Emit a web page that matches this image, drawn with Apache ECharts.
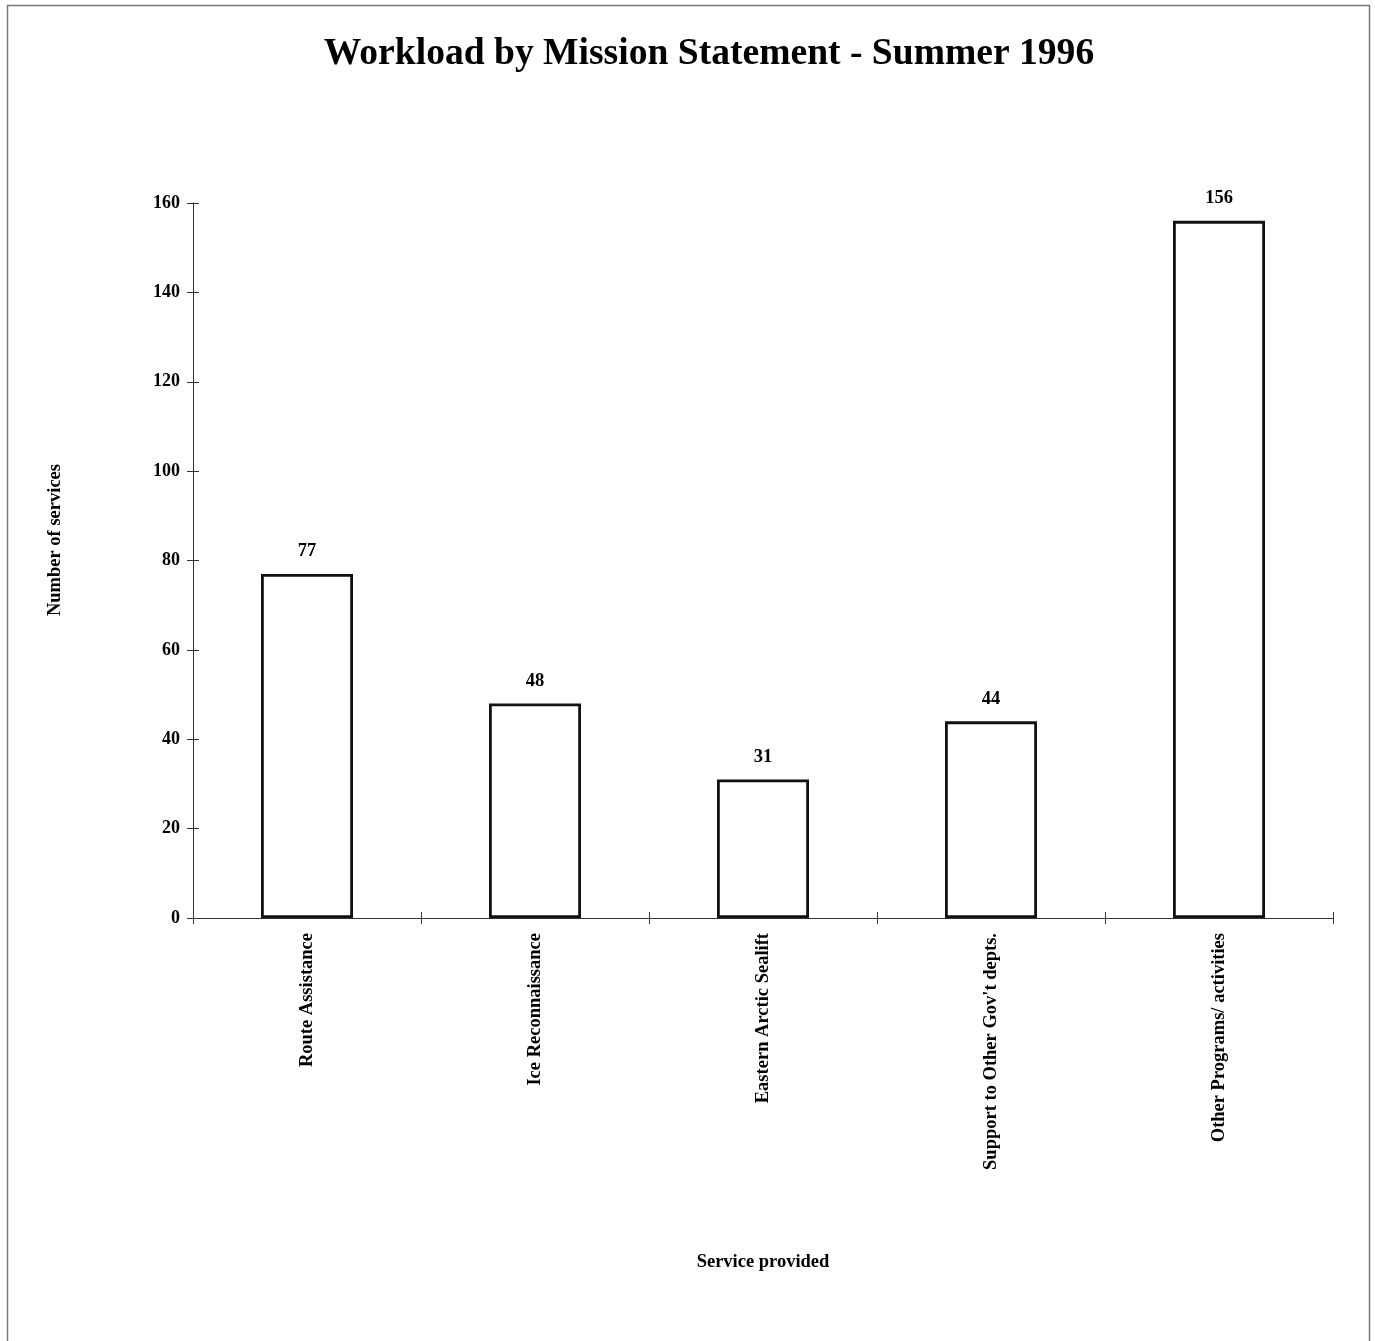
<!DOCTYPE html>
<html>
<head>
<meta charset="utf-8">
<script src="https://cdn.jsdelivr.net/npm/echarts@6/dist/echarts.min.js"></script>
<style>html,body{margin:0;padding:0;background:#fff}#c{width:1375px;height:1341px}</style>
</head>
<body>
<div id="c"></div>
<script>
const categories = ["Route Assistance", "Ice Reconnaissance", "Eastern Arctic Sealift", "Support to Other Gov't depts.", "Other Programs/ activities"];
const services = [77, 48, 31, 44, 156];
const yTicks = {min: 0, max: 160, interval: 20};

const FONT = '"Liberation Serif", "Times New Roman", serif';
const chart = echarts.init(document.getElementById('c'), null, {renderer: 'canvas'});
const axisLine = {show: true, lineStyle: {color: '#333', width: 1}};
chart.setOption({
  backgroundColor: '#fff',
  animation: false,
  title: {
    text: 'Workload by Mission Statement - Summer 1996',
    left: 704, top: 30, textAlign: 'center',
    textStyle: {fontFamily: FONT, fontWeight: 'bold', fontSize: 37.6, color: '#000'}
  },
  graphic: [{
    type: 'rect', shape: {x: 7.5, y: 5.5, width: 1362, height: 1345},
    style: {fill: 'none', stroke: '#777', lineWidth: 1.5}, silent: true
  }, {
    type: 'text', x: 55, y: 540, rotation: Math.PI / 2,
    style: {text: 'Number of services', fontFamily: FONT, fontWeight: 'bold', fontSize: 18.5, fill: '#000', align: 'center', verticalAlign: 'middle'},
    silent: true
  }],
  grid: {left: 193, right: 42, top: 203, bottom: 423},
  xAxis: [{
    type: 'category', data: categories,
    name: 'Service provided', nameLocation: 'middle', nameGap: 335,
    nameTextStyle: {fontFamily: FONT, fontWeight: 'bold', fontSize: 18.5, color: '#000'},
    axisLine: axisLine,
    axisTick: {show: true, length: 6, lineStyle: {color: '#333'}},
    axisLabel: {rotate: 90, margin: 15, interval: 0, fontFamily: FONT, fontWeight: 'bold', fontSize: 18.5, color: '#000'}
  }, {
    type: 'category', data: categories, position: 'bottom',
    axisLine: axisLine,
    axisTick: {show: true, inside: true, length: 6, lineStyle: {color: '#333'}},
    axisLabel: {show: false}
  }],
  yAxis: [{
    type: 'value', min: yTicks.min, max: yTicks.max, interval: yTicks.interval,
    axisLine: axisLine,
    axisTick: {show: true, length: 6, lineStyle: {color: '#333'}},
    axisLabel: {margin: 13, fontFamily: FONT, fontWeight: 'bold', fontSize: 18, color: '#000'},
    splitLine: {show: false}
  }, {
    type: 'value', min: yTicks.min, max: yTicks.max, interval: yTicks.interval, position: 'left',
    axisLine: axisLine,
    axisTick: {show: true, inside: true, length: 6, lineStyle: {color: '#333'}},
    axisLabel: {show: false}, splitLine: {show: false}
  }],
  series: [{
    type: 'bar', data: services, barWidth: 92,
    itemStyle: {color: '#fff', borderColor: '#111', borderWidth: 2.8},
    label: {show: true, position: 'top', distance: 13, fontFamily: FONT, fontWeight: 'bold', fontSize: 18.5, color: '#000'}
  }]
});
</script>
</body>
</html>
